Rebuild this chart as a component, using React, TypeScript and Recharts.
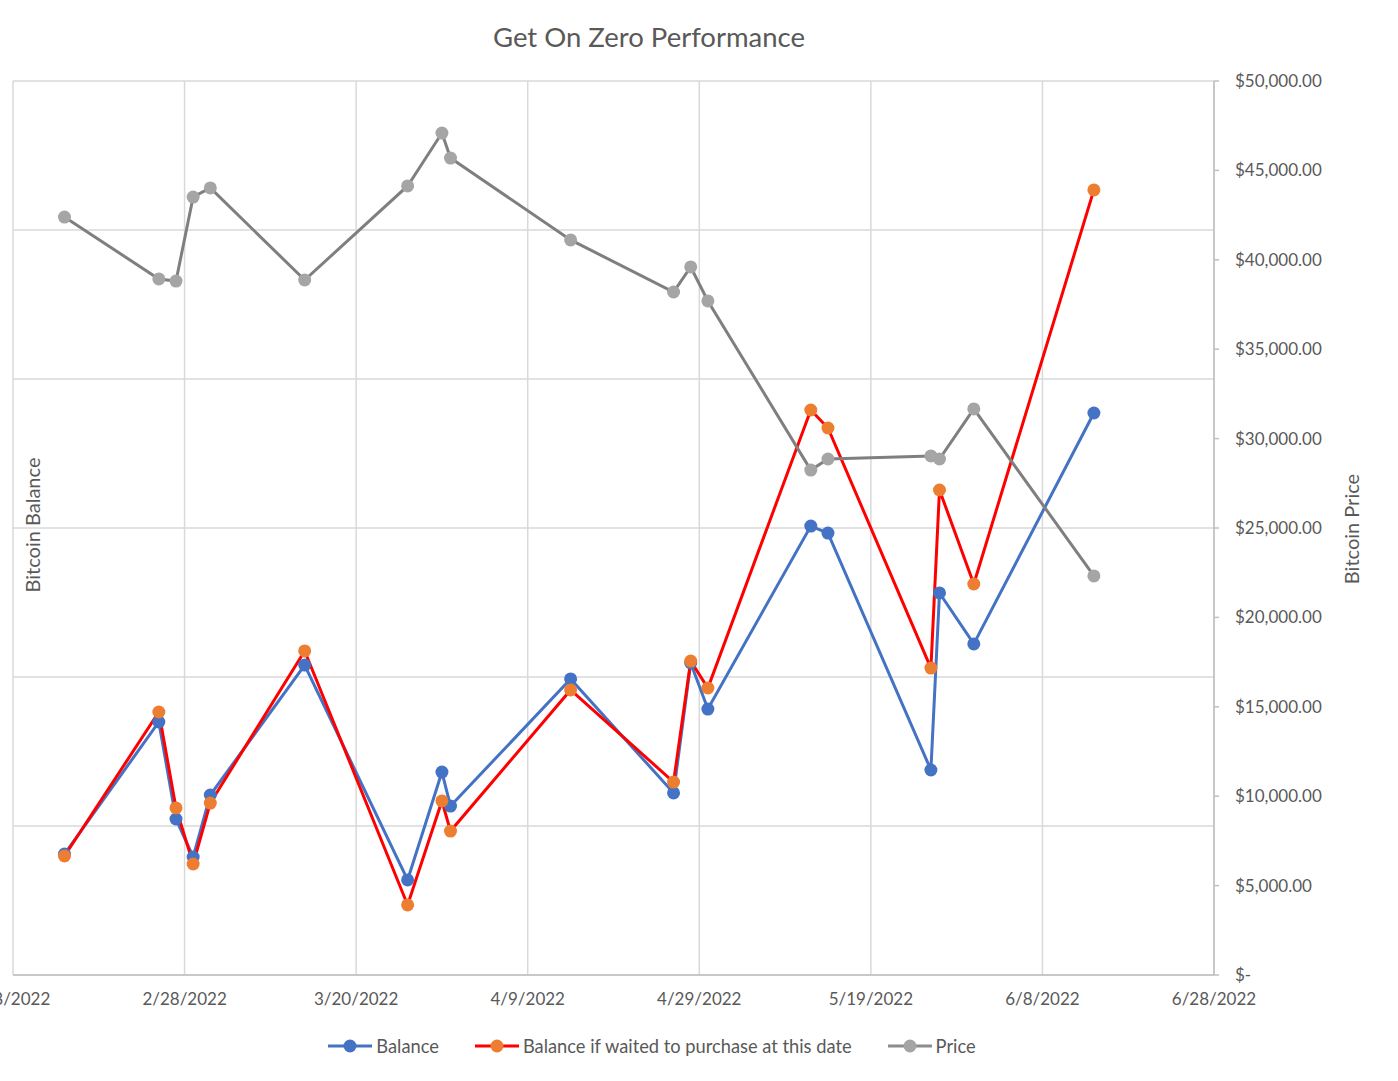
import React from "react";
import {
  LineChart,
  Line,
  XAxis,
  YAxis,
  CartesianGrid,
  Legend,
} from "recharts";

// purchase dates
const dates = [
  "2022-02-14", "2022-02-25", "2022-02-27", "2022-03-01", "2022-03-03",
  "2022-03-14", "2022-03-26", "2022-03-30", "2022-03-31", "2022-04-14",
  "2022-04-26", "2022-04-28", "2022-04-30", "2022-05-12", "2022-05-14",
  "2022-05-26", "2022-05-27", "2022-05-31", "2022-06-14",
];

// left axis (labels hidden in the original)
const balance = [
  8120, 16980, 10470, 7920, 12080, 20800, 6380, 13620, 11340, 19870,
  12220, 20940, 17850, 30130, 29660, 13760, 25640, 22220, 37720,
];
const waited = [
  7990, 17650, 11210, 7450, 11540, 21750, 4700, 11680, 9660, 19130,
  12950, 21070, 19260, 37920, 36710, 20600, 32550, 26240, 52690,
];

// right axis
const price = [
  42390, 38930, 38810, 43510, 44020, 38870, 44130, 47090, 45690, 41110,
  38200, 39600, 37700, 28240, 28860, 29030, 28860, 31660, 22320,
];

const xTickDates = [
  "2022-02-08", "2022-02-28", "2022-03-20", "2022-04-09",
  "2022-04-29", "2022-05-19", "2022-06-08", "2022-06-28",
];
const leftMax = 60000;
const leftTicks = [0, 10000, 20000, 30000, 40000, 50000, 60000];
const rightTicks = [
  0, 5000, 10000, 15000, 20000, 25000, 30000, 35000, 40000, 45000, 50000,
];

const toTime = (s: string) => {
  const [y, m, d] = s.split("-").map(Number);
  return Date.UTC(y, m - 1, d);
};

const rows = dates.map((d, i) => ({
  t: toTime(d),
  balance: balance[i],
  waited: waited[i],
  price: price[i],
}));

const xTicks = xTickDates.map(toTime);

const fmtDate = (v: number) => {
  const d = new Date(v);
  return `${d.getUTCMonth() + 1}/${d.getUTCDate()}/${d.getUTCFullYear()}`;
};

const fmtMoney = (v: number) =>
  v === 0
    ? "$-"
    : "$" + v.toLocaleString("en-US", { minimumFractionDigits: 2, maximumFractionDigits: 2 });

// horizontal gridlines follow the (hidden) primary axis, like Excel does
const leftGridLines = (props: any) => {
  const scale = props?.yAxis?.scale;
  if (scale && typeof scale === "function") return leftTicks.map((v) => scale(v));
  const { offset } = props;
  return leftTicks.map((v) => offset.top + offset.height * (1 - v / leftMax));
};

const TEXT = "#595959";
const FONT = "Lato, 'Open Sans', sans-serif";

const legendItems = [
  { name: "Balance", line: "#4472C4", dot: "#4472C4" },
  { name: "Balance if waited to purchase at this date", line: "#FF0000", dot: "#ED7D31" },
  { name: "Price", line: "#8C8C8C", dot: "#A5A5A5" },
];

function LegendBox() {
  return (
    <div style={{ display: "flex", justifyContent: "center", alignItems: "center", height: 30 }}>
      {legendItems.map((it, i) => (
        <div
          key={it.name}
          style={{ display: "flex", alignItems: "center", marginRight: i < legendItems.length - 1 ? 36 : 0 }}
        >
          <svg width={44} height={14}>
            <line x1={0} y1={7} x2={44} y2={7} stroke={it.line} strokeWidth={3} />
            <circle cx={22} cy={7} r={6.5} fill={it.dot} />
          </svg>
          <span style={{ marginLeft: 4, fontSize: 18.3, color: TEXT, fontFamily: FONT }}>{it.name}</span>
        </div>
      ))}
    </div>
  );
}

export default function App() {
  return (
    <div
      style={{
        position: "absolute",
        left: 0,
        top: 0,
        width: 1398,
        height: 1081,
        background: "#fff",
        fontFamily: FONT,
      }}
    >
      <div
        style={{
          position: "absolute",
          top: 20,
          left: 0,
          width: 1298,
          textAlign: "center",
          fontSize: 27.5,
          color: TEXT,
        }}
      >
        Get On Zero Performance
      </div>
      <div
        style={{
          position: "absolute",
          left: 32,
          top: 525,
          transform: "translate(-50%, -50%) rotate(-90deg)",
          whiteSpace: "nowrap",
          fontSize: 20,
          color: TEXT,
        }}
      >
        Bitcoin Balance
      </div>
      <div
        style={{
          position: "absolute",
          left: 1351,
          top: 529,
          transform: "translate(-50%, -50%) rotate(-90deg)",
          whiteSpace: "nowrap",
          fontSize: 20,
          color: TEXT,
        }}
      >
        Bitcoin Price
      </div>

      <LineChart
        width={1398}
        height={1081}
        data={rows}
        margin={{ top: 81, right: 0, bottom: 20, left: 12 }}
      >
        <CartesianGrid
          stroke="#d9d9d9"
          strokeWidth={1.5}
          horizontalCoordinatesGenerator={leftGridLines}
        />
        <XAxis
          dataKey="t"
          type="number"
          domain={[xTicks[0], xTicks[xTicks.length - 1]]}
          ticks={xTicks}
          interval={0}
          tickFormatter={fmtDate}
          height={56}
          tickLine={false}
          tickSize={6}
          tickMargin={12}
          axisLine={{ stroke: "#bfbfbf", strokeWidth: 1.5 }}
          tick={{ fill: TEXT, fontSize: 17, fontFamily: FONT }}
        />
        {/* primary axis, labels hidden */}
        <YAxis
          orientation="left"
          width={1}
          domain={[0, leftMax]}
          ticks={leftTicks}
          interval={0}
          tick={false}
          axisLine={false}
          tickLine={false}
        />
        <YAxis
          yAxisId="right"
          orientation="right"
          width={184}
          domain={[0, 50000]}
          ticks={rightTicks}
          interval={0}
          tickFormatter={fmtMoney}
          tickSize={5}
          tickMargin={16}
          axisLine={{ stroke: "#bfbfbf", strokeWidth: 1.5 }}
          tickLine={{ stroke: "#bfbfbf", strokeWidth: 1.5 }}
          tick={{ fill: TEXT, fontSize: 17, fontFamily: FONT, textAnchor: "start" }}
        />
        <Legend
          verticalAlign="bottom"
          height={30}
          wrapperStyle={{ left: 0, width: 1304 }}
          content={() => <LegendBox />}
        />
        <Line
          dataKey="balance"
          name="Balance"
          type="linear"
          stroke="#4472C4"
          strokeWidth={3}
          dot={{ r: 6.5, fill: "#4472C4", stroke: "none" }}
          activeDot={false}
          isAnimationActive={false}
        />
        <Line
          dataKey="waited"
          name="Balance if waited to purchase at this date"
          type="linear"
          stroke="#FF0000"
          strokeWidth={3}
          dot={{ r: 6.5, fill: "#ED7D31", stroke: "none" }}
          activeDot={false}
          isAnimationActive={false}
        />
        <Line
          yAxisId="right"
          dataKey="price"
          name="Price"
          type="linear"
          stroke="#7F7F7F"
          strokeWidth={3}
          dot={{ r: 6.5, fill: "#A5A5A5", stroke: "none" }}
          activeDot={false}
          isAnimationActive={false}
        />
      </LineChart>
    </div>
  );
}
